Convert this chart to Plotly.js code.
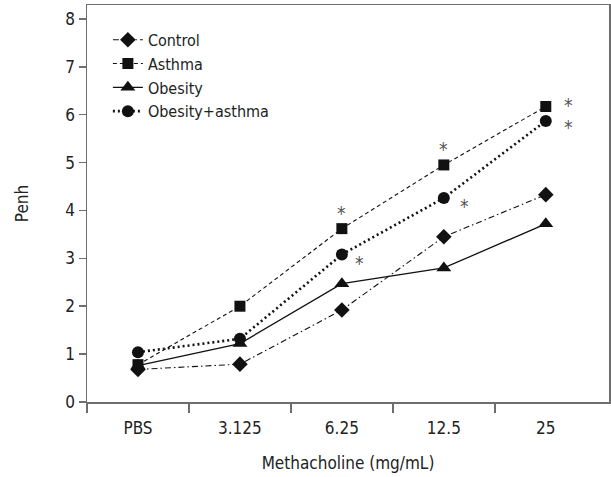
<!DOCTYPE html>
<html>
<head>
<meta charset="utf-8">
<script src="https://cdn.plot.ly/plotly-3.0.1.min.js"></script>
<style>html,body{margin:0;padding:0;background:#fff;}#chart{width:611px;height:477px;}</style>
</head>
<body>
<div id="chart"></div>
<script>
const categories = ['PBS', '3.125', '6.25', '12.5', '25'];
const seriesNames = ['Control', 'Asthma', 'Obesity', 'Obesity+asthma'];
const control = [0.68, 0.79, 1.92, 3.45, 4.33];
const asthma = [0.78, 2.0, 3.62, 4.95, 6.17];
const obesity = [0.76, 1.22, 2.47, 2.8, 3.72];
const obesityAsthma = [1.04, 1.32, 3.08, 4.26, 5.87];
// significance marks: [category, series index]
const sigCategories = ['6.25', '6.25', '12.5', '12.5', '25', '25'];
const sigSeries = [1, 3, 1, 3, 1, 3];

const values = [control, asthma, obesity, obesityAsthma];
const symbols = ['diamond', 'square', 'triangle-up', 'circle'];
const dashes = ['6px,3px,1.5px,3px', '4px,3px', 'solid', '2px,3px'];
const widths = [1.1, 1.1, 1.3, 2.6];
const sizes = [12, 11, 13, 12];
const FONT = '"DejaVu Sans Condensed", "Liberation Sans Narrow", sans-serif';

const traces = values.map((v, i) => ({
  x: categories, y: v, name: seriesNames[i], type: 'scatter', mode: 'lines+markers',
  line: {color: '#111', width: widths[i], dash: dashes[i]},
  marker: {symbol: symbols[i], size: sizes[i], color: '#111'}
}));
// helper trace for boundary tick axis
traces.push({x: [0], y: [0], xaxis: 'x2', yaxis: 'y', mode: 'markers', marker: {opacity: 0}, showlegend: false, hoverinfo: 'skip'});

const annotations = sigCategories.map((c, k) => {
  const s = sigSeries[k];
  const ci = categories.indexOf(c);
  let xs, ys;
  if (s === 1) {
    if (ci < 4) { xs = 0; ys = 16; } else { xs = 23; ys = 2; }
  } else {
    xs = ci === 2 ? 18 : (ci === 3 ? 21 : 23);
    ys = ci === 4 ? -6 : -8;
  }
  return {x: ci, y: values[s][ci], xref: 'x2', yref: 'y', text: '*', showarrow: false,
    xshift: xs, yshift: ys, font: {family: FONT, size: 19, color: '#555'}};
});

const axisLine = '#6e6e6e';
const layout = {
  width: 611, height: 477,
  margin: {l: 87, r: 2, t: 5, b: 75},
  paper_bgcolor: '#fff', plot_bgcolor: '#fff',
  font: {family: FONT, size: 16, color: '#222'},
  showlegend: true,
  legend: {x: 0.04, y: 0.955, xanchor: 'left', yanchor: 'top', bgcolor: 'rgba(0,0,0,0)',
    font: {family: FONT, size: 16, color: '#222'}, tracegroupgap: 0},
  xaxis: {type: 'category', range: [-0.5, 4.62], showgrid: false, zeroline: false,
    showline: true, linecolor: axisLine, linewidth: 1.5, mirror: true, ticks: '',
    ticklabelstandoff: 10,
    tickfont: {family: FONT, size: 17, color: '#222'},
    title: {text: 'Methacholine (mg/mL)', font: {family: FONT, size: 17, color: '#222'}, standoff: 20}},
  xaxis2: {overlaying: 'x', anchor: 'y', side: 'bottom', range: [-0.5, 4.62], showgrid: false, zeroline: false,
    showline: false, tickmode: 'array', tickvals: [-0.5, 0.5, 1.5, 2.5, 3.5], showticklabels: false,
    ticks: 'outside', ticklen: 10, tickwidth: 1.5, tickcolor: axisLine},
  yaxis: {range: [0, 8.29], dtick: 1, tick0: 0, showgrid: false, zeroline: false,
    showline: true, linecolor: axisLine, linewidth: 1.5, mirror: true,
    ticks: 'outside', ticklen: 7, tickwidth: 1.5, tickcolor: axisLine,
    tickfont: {family: FONT, size: 17, color: '#222'},
    title: {text: 'Penh', font: {family: FONT, size: 17, color: '#222'}, standoff: 32}},
  annotations: annotations
};
Plotly.newPlot('chart', traces, layout, {displayModeBar: false, staticPlot: true});
</script>
</body>
</html>
